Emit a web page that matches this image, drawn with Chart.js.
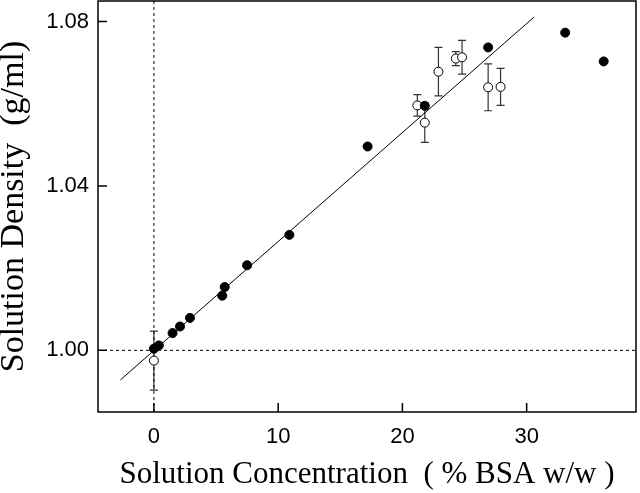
<!DOCTYPE html>
<html>
<head>
<meta charset="utf-8">
<script src="https://cdn.jsdelivr.net/npm/chart.js@4"></script>
<style>
  html, body { margin: 0; padding: 0; background: #fff; }
  #wrap { width: 640px; height: 493px; }
</style>
</head>
<body>
<div id="wrap"><canvas id="densityChart" width="640" height="493"></canvas></div>
<script>
// ===== 데이터 =====
const xTicks = [0, 10, 20, 30];
const yTicks = [1.00, 1.04, 1.08];
const xRange = [-4.5, 38.8];
const yRange = [0.985, 1.085];

// 채운 점
const filledX = [0.0, 0.4, 1.5, 2.1, 2.9, 5.5, 5.7, 7.5, 10.9, 17.2, 21.8, 26.9, 33.1, 36.2];
const filledY = [1.0004, 1.0012, 1.0042, 1.0058, 1.0079, 1.0133, 1.0154, 1.0207, 1.0281, 1.0496, 1.0595, 1.0737, 1.0773, 1.0703];

// 빈 점 + 오차 막대 (±)
const openX = [0.0, 21.2, 21.8, 22.9, 24.3, 24.8, 26.9, 27.9];
const openY = [0.9975, 1.0596, 1.0554, 1.0678, 1.0710, 1.0713, 1.0640, 1.0641];
const openErr = [0.0072, 0.0026, 0.0048, 0.0059, 0.0017, 0.0041, 0.0057, 0.0045];

// 회귀선 양 끝
const fitX = [-2.7, 30.6];
const fitY = [0.9928, 1.0811];

const toPts = (xs, ys) => xs.map((x, i) => ({ x, y: ys[i] }));

// 프레임, 안쪽 눈금, 오차 막대
const framePlugin = {
  id: "frame",
  beforeDatasetsDraw(chart) {
    const { ctx, scales } = chart;
    const xs = scales.x, ys = scales.y;
    ctx.save();
    ctx.strokeStyle = "#333";
    ctx.lineWidth = 1.2;
    openX.forEach((x, i) => {
      const px = xs.getPixelForValue(x);
      const top = ys.getPixelForValue(openY[i] + openErr[i]);
      const bot = ys.getPixelForValue(openY[i] - openErr[i]);
      ctx.beginPath();
      ctx.moveTo(px, top); ctx.lineTo(px, bot);
      ctx.moveTo(px - 4, top); ctx.lineTo(px + 4, top);
      ctx.moveTo(px - 4, bot); ctx.lineTo(px + 4, bot);
      ctx.stroke();
    });
    ctx.restore();
  },
  afterDraw(chart) {
    const { ctx, chartArea: a, scales } = chart;
    ctx.save();
    ctx.strokeStyle = "#000";
    ctx.lineWidth = 1.5;
    ctx.strokeRect(a.left, a.top, a.right - a.left, a.bottom - a.top);
    ctx.beginPath();
    xTicks.forEach((v) => {
      const px = scales.x.getPixelForValue(v);
      ctx.moveTo(px, a.bottom); ctx.lineTo(px, a.bottom - 9);
    });
    yTicks.forEach((v) => {
      const py = scales.y.getPixelForValue(v);
      ctx.moveTo(a.left, py); ctx.lineTo(a.left + 9, py);
    });
    ctx.stroke();
    ctx.restore();
  },
};

new Chart(document.getElementById("densityChart"), {
  type: "scatter",
  data: {
    datasets: [
      {
        label: "filled",
        data: toPts(filledX, filledY),
        backgroundColor: "#000",
        borderColor: "#000",
        pointRadius: 4.5,
        borderWidth: 1,
      },
      {
        label: "open",
        data: toPts(openX, openY),
        backgroundColor: "#fff",
        borderColor: "#000",
        pointRadius: 4.5,
        borderWidth: 1,
      },
      {
        label: "fit",
        data: toPts(fitX, fitY),
        showLine: true,
        pointRadius: 0,
        borderColor: "#000",
        borderWidth: 1,
      },
      {
        label: "x=0",
        data: [{ x: 0, y: yRange[0] }, { x: 0, y: yRange[1] }],
        showLine: true,
        pointRadius: 0,
        borderColor: "#000",
        borderWidth: 1,
        borderDash: [3, 3],
      },
      {
        label: "y=1",
        data: [{ x: xRange[0], y: 1.0 }, { x: xRange[1], y: 1.0 }],
        showLine: true,
        pointRadius: 0,
        borderColor: "#000",
        borderWidth: 1,
        borderDash: [3, 3],
      },
    ],
  },
  options: {
    responsive: false,
    animation: false,
    layout: { autoPadding: false, padding: { top: 1, right: 4, left: 0, bottom: 0 } },
    plugins: { legend: { display: false }, tooltip: { enabled: false } },
    scales: {
      x: {
        type: "linear",
        min: xRange[0],
        max: xRange[1],
        afterBuildTicks: (s) => { s.ticks = xTicks.map((v) => ({ value: v })); },
        afterFit: (s) => { s.height = 81; s.paddingLeft = 0; s.paddingRight = 0; },
        grid: { display: false, drawTicks: false },
        border: { display: false },
        ticks: {
          padding: 12,
          color: "#000",
          font: { family: "Liberation Sans", size: 22 },
        },
        title: {
          display: true,
          text: "Solution Concentration  ( % BSA w/w )",
          color: "#000",
          font: { family: "Liberation Serif", size: 31, lineHeight: 1.2 },
          padding: { top: 0, bottom: 0 },
        },
      },
      y: {
        type: "linear",
        min: yRange[0],
        max: yRange[1],
        afterBuildTicks: (s) => { s.ticks = yTicks.map((v) => ({ value: v })); },
        afterFit: (s) => { s.width = 98; s.paddingTop = 0; s.paddingBottom = 0; },
        grid: { display: false, drawTicks: false },
        border: { display: false },
        ticks: {
          padding: 9,
          color: "#000",
          font: { family: "Liberation Sans", size: 22 },
          callback: (v) => v.toFixed(2),
        },
        title: {
          display: true,
          text: "Solution Density  (g/ml)",
          color: "#000",
          font: { family: "Liberation Serif", size: 34, lineHeight: 0.85 },
          padding: { top: 0, bottom: 0 },
        },
      },
    },
  },
  plugins: [framePlugin],
});
</script>
</body>
</html>
